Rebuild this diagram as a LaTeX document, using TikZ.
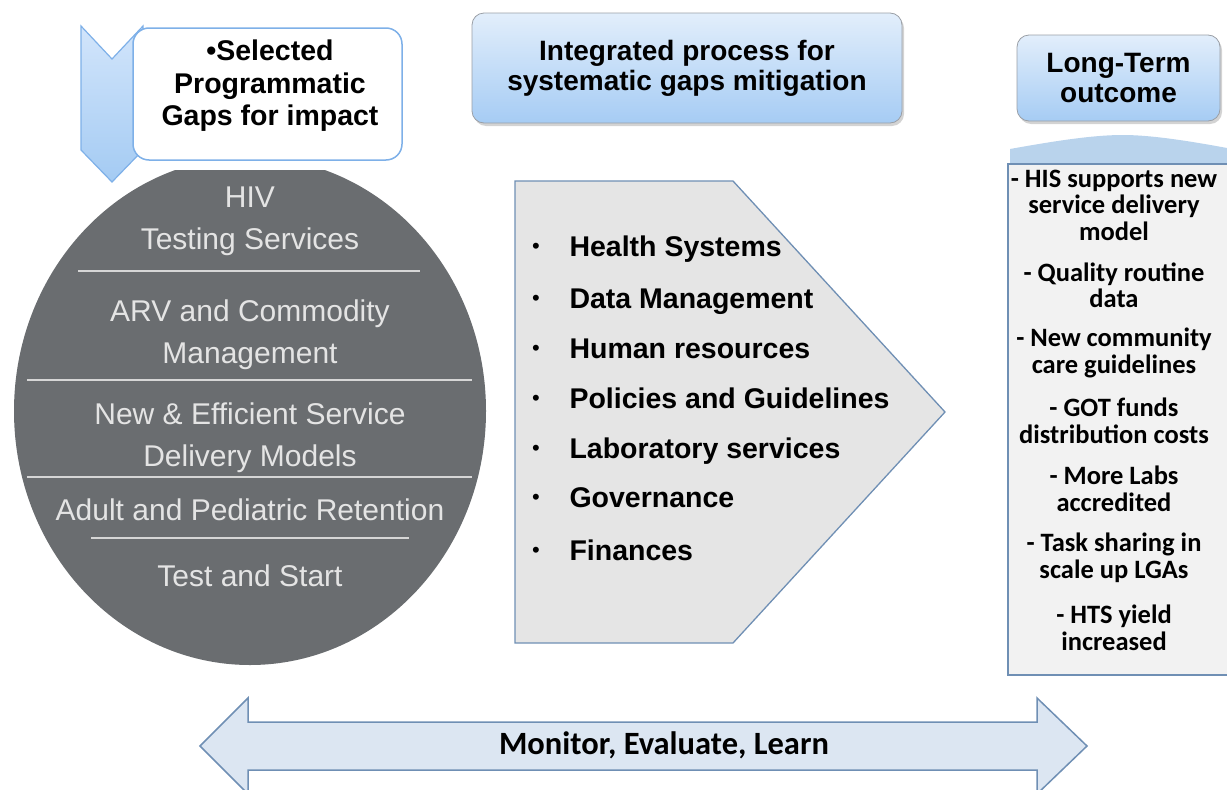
\documentclass[tikz,border=0pt]{standalone}
\usepackage{fontspec}
\setmainfont{Liberation Sans}
\newfontfamily\calfont{Carlito}
\usetikzlibrary{shadows}
\definecolor{circgray}{HTML}{6A6D70}
\definecolor{circtext}{HTML}{E4E4E4}
\definecolor{circline}{HTML}{D6D6D6}
\definecolor{boxtop}{HTML}{E2EEFB}
\definecolor{boxbot}{HTML}{A6CCF4}
\definecolor{boxedge}{HTML}{9A9FA6}
\definecolor{chevtop}{HTML}{D2E5FB}
\definecolor{chevbot}{HTML}{A4CBF3}
\definecolor{chevedge}{HTML}{7EB0E8}
\definecolor{pentfill}{HTML}{E5E5E5}
\definecolor{steel}{HTML}{6F8FB4}
\definecolor{capblue}{HTML}{B9D3EC}
\definecolor{outfill}{HTML}{F2F2F2}
\definecolor{arrowfill}{HTML}{DCE6F2}
\tikzset{
  headbox/.style={draw=boxedge, line width=0.8pt, rounded corners=12pt,
    top color=boxtop, bottom color=boxbot, align=center,
    drop shadow={shadow xshift=2pt, shadow yshift=-3pt, opacity=0.35},
    font=\bfseries\fontsize{28}{30}\selectfont},
  circtxt/.style={text=circtext, align=center, font=\fontsize{30}{42}\selectfont},
  divider/.style={draw=circline, line width=2.5pt},
  listitem/.style={anchor=base west, font=\bfseries\fontsize{28.5}{30}\selectfont},
  bulletmark/.style={anchor=base, font=\fontsize{22}{24}\selectfont},
  outitem/.style={align=center, font=\calfont\bfseries\fontsize{26.5}{26.5}\selectfont},
}
\begin{document}
\begin{tikzpicture}[x=1pt, y=-1pt]
\useasboundingbox (0,0) rectangle (1227,790);
\clip (0,0) rectangle (1227,790);

% gaps circle, flattened at the top
\begin{scope}
  \clip (0,170) rectangle (500,700);
  \fill[circgray] (250,411) ellipse [x radius=236, y radius=254];
\end{scope}
\draw[divider] (78,271) -- (420,271);
\draw[divider] (27,380) -- (472,380);
\draw[divider] (27,477) -- (472,477);
\draw[divider] (91,538) -- (409,538);
\node[circtxt] (hts) at (250,221) {HIV\\Testing Services};
\node[circtxt] (arv) at (250,335) {ARV and Commodity\\Management};
\node[circtxt] (sdm) at (250,438) {New \& Efficient Service\\Delivery Models};
\node[circtxt] (ret) at (250,510) {Adult and Pediatric Retention};
\node[circtxt] (tas) at (250,576) {Test and Start};

% down chevron and the gaps label box
\path[draw=chevedge, line width=1.2pt, top color=chevtop, bottom color=chevbot]
  (81,26) -- (112,59) -- (143,26) -- (143,150) -- (112,182) -- (81,150) -- cycle;
\node[draw=chevedge, line width=1.5pt, fill=white, rounded corners=16pt,
  minimum width=269pt, minimum height=132pt] (gaps) at (267.5,94) {};
\node[align=center, font=\bfseries\fontsize{28.5}{32.5}\selectfont] (gapstxt)
  at (270,86) {\textbullet Selected\\Programmatic\\Gaps for impact};

% header boxes
\node[headbox, minimum width=430pt, minimum height=110pt] (integ) at (687,68)
  {Integrated process for\\systematic gaps mitigation};
\node[headbox, minimum width=203pt, minimum height=86pt] (ltout) at (1118.5,78)
  {Long-Term\\outcome};

% process pentagon with its list
\draw[steel, line width=1.3pt, fill=pentfill]
  (515,181) -- (733,181) -- (945,412) -- (733,643) -- (515,643) -- cycle;
\foreach \y/\t/\n in {256/Health Systems/hs, 308/Data Management/dm,
    358/Human resources/hr, 408/Policies and Guidelines/pg,
    458/Laboratory services/ls, 507/Governance/gv, 560/Finances/fn} {
  \node[bulletmark] (b\n) at (536,\y-3) {\textbullet};
  \node[listitem] (\n) at (566,\y) {\t};
}

% outcome column with its arrow cap
\fill[capblue] (1010,163) -- (1010,149) .. controls (1060,140) and (1095,135) ..
  (1123,135) .. controls (1155,135) and (1200,143) .. (1227,148) -- (1227,163) -- cycle;
\draw[steel, line width=2pt, fill=outfill]
  (1240,164) -- (1008,164) -- (1008,675) -- (1240,675);
\node[outitem] (o1) at (1114,205) {- HIS supports new\\service delivery\\model};
\node[outitem] (o2) at (1114,285.5) {- Quality routine\\data};
\node[outitem] (o3) at (1114,353) {- New community\\care guidelines};
\node[outitem] (o4) at (1114,421) {- GOT funds\\distribution costs};
\node[outitem] (o5) at (1114,489) {- More Labs\\accredited};
\node[outitem] (o6) at (1114,558) {- Task sharing in\\scale up LGAs};
\node[outitem] (o7) at (1114,628) {- HTS yield\\increased};

% monitoring double arrow
\draw[steel, line width=1.5pt, fill=arrowfill]
  (200,746) -- (248,698) -- (248,722) -- (1037,722) -- (1037,698) -- (1087,746)
  -- (1037,794) -- (1037,770) -- (248,770) -- (248,794) -- cycle;
\node[font=\calfont\bfseries\fontsize{32.5}{32.5}\selectfont] (mel) at (664,745)
  {Monitor, Evaluate, Learn};
\end{tikzpicture}
\end{document}
